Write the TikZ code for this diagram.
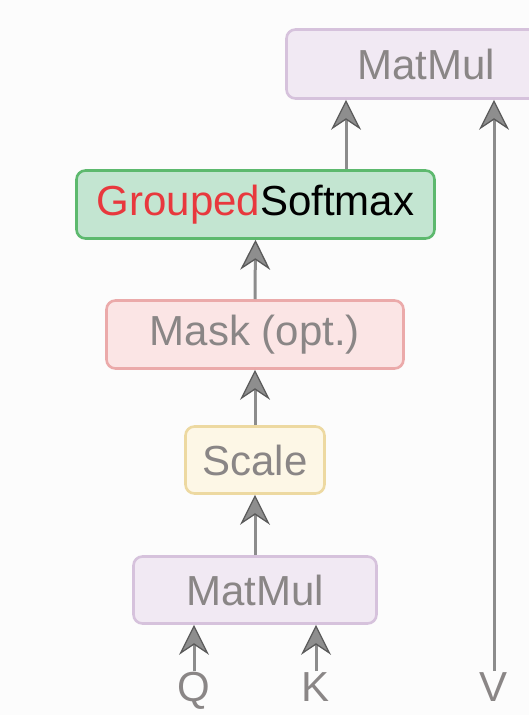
\documentclass[tikz,border=0pt]{standalone}
\usepackage{fontspec}
\setmainfont{Liberation Sans}
\usetikzlibrary{arrows.meta}

\definecolor{txtgray}{HTML}{8A8686}
\definecolor{linegray}{HTML}{8C8C8C}
\definecolor{tipfill}{HTML}{8E8E8E}
\definecolor{tipdraw}{HTML}{5A5A5A}
\definecolor{mmfill}{HTML}{F1E9F3}
\definecolor{mmdraw}{HTML}{D6C2DC}
\definecolor{smfill}{HTML}{C3E5D1}
\definecolor{smdraw}{HTML}{5DB96E}
\definecolor{mkfill}{HTML}{FBE5E5}
\definecolor{mkdraw}{HTML}{EBAAAA}
\definecolor{scfill}{HTML}{FDF7E6}
\definecolor{scdraw}{HTML}{EDD9A1}
\definecolor{grpred}{HTML}{E8383D}
\definecolor{bg}{HTML}{FCFCFC}

\tikzset{
  opbox/.style={rectangle, rounded corners=9pt, line width=2.6pt,
    inner sep=0pt, text=txtgray, font=\fontsize{42}{48}\selectfont},
  inlabel/.style={inner sep=0pt, text=txtgray, text height=30pt, text depth=0pt,
    font=\fontsize{42}{48}\selectfont},
  arr/.style={draw=linegray, line width=3pt,
    -{Stealth[length=30pt, width=30pt, inset=10pt, fill=tipfill, color=tipdraw, line width=1.3pt]}},
}

\begin{document}
\begin{tikzpicture}[x=1pt, y=-1pt]
  \useasboundingbox (0,0) rectangle (529,715);
  \clip (0,0) rectangle (529,715);
  \fill[bg] (0,0) rectangle (529,715);

  % operation boxes
  \node[opbox, fill=mmfill, draw=mmdraw, minimum width=279pt, minimum height=69pt]
    (mmtop) at (426,64) {MatMul};
  \node[opbox, fill=smfill, draw=smdraw, minimum width=358pt, minimum height=68pt, text=black]
    (softmax) at (255.5,204.5) {\textcolor{grpred}{Grouped}Softmax};
  \node[opbox, fill=mkfill, draw=mkdraw, minimum width=297pt, minimum height=68pt]
    (mask) at (255,334.5) {Mask (opt.)};
  \node[opbox, fill=scfill, draw=scdraw, minimum width=139pt, minimum height=67pt]
    (scale) at (255,460) {Scale};
  \node[opbox, fill=mmfill, draw=mmdraw, minimum width=243pt, minimum height=67pt]
    (mmbot) at (255,590) {MatMul};

  % inputs
  \node[inlabel, anchor=north] (q) at (194,671) {Q};
  \node[inlabel, anchor=north] (k) at (316,671) {K};
  \node[inlabel, anchor=north] (v) at (494,671) {V};

  % data flow
  \draw[arr] (q.north) -- (q.north |- mmbot.south);
  \draw[arr] (k.north) -- (k.north |- mmbot.south);
  \draw[arr] (mmbot.north) -- (scale.south);
  \draw[arr] (scale.north) -- (mask.south);
  \draw[arr] (mask.north) -- (softmax.south);
  \draw[arr] ([xshift=90.5pt]softmax.north) -- ([xshift=90.5pt]softmax.north |- mmtop.south);
  \draw[arr] (v.north) -- (v.north |- mmtop.south);
\end{tikzpicture}
\end{document}
